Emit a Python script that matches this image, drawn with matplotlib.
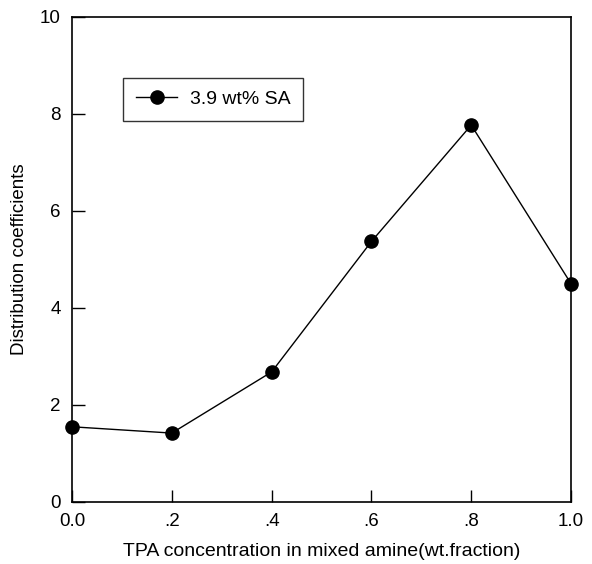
import matplotlib
matplotlib.use('Agg')
import matplotlib.pyplot as plt
from matplotlib.ticker import FixedLocator, FixedFormatter

plt.rcParams['font.family'] = ['Liberation Sans', 'DejaVu Sans']

tpa = [0.0, 0.2, 0.4, 0.6, 0.8, 1.0]
kd = [1.55, 1.42, 2.68, 5.37, 7.77, 4.50]
xtick_vals = [0.0, 0.2, 0.4, 0.6, 0.8, 1.0]
xtick_labels = ['0.0', '.2', '.4', '.6', '.8', '1.0']
ytick_vals = [0, 2, 4, 6, 8, 10]

fig = plt.figure(figsize=(5.92, 5.64), dpi=100)
ax = fig.add_axes([0.1216, 0.110, 0.843, 0.860])

ax.plot(tpa, kd, color='black', lw=1, marker='o', ms=9.5,
        markerfacecolor='black', label='3.9 wt% SA', clip_on=False, zorder=3)

ax.set_xlim(0, 1.0)
ax.set_ylim(0, 10)
ax.xaxis.set_major_locator(FixedLocator(xtick_vals))
ax.xaxis.set_major_formatter(FixedFormatter(xtick_labels))
ax.set_yticks(ytick_vals)
ax.tick_params(direction='in', length=9, width=1, labelsize=13.5, pad=8)
for s in ax.spines.values():
    s.set_linewidth(1.2)

ax.set_xlabel('TPA concentration in mixed amine(wt.fraction)', fontsize=14, labelpad=9)
ax.set_ylabel('Distribution coefficients', fontsize=13.5, labelpad=9)

leg = ax.legend(loc='upper left', bbox_to_anchor=(123 / 592, 1 - 78 / 564),
                bbox_transform=fig.transFigure, borderaxespad=0, fontsize=14,
                frameon=True, fancybox=False, edgecolor='black',
                handlelength=2.15, handletextpad=0.65, borderpad=0.65)
leg.get_frame().set_linewidth(1)

fig.savefig('out.png', dpi=100)
